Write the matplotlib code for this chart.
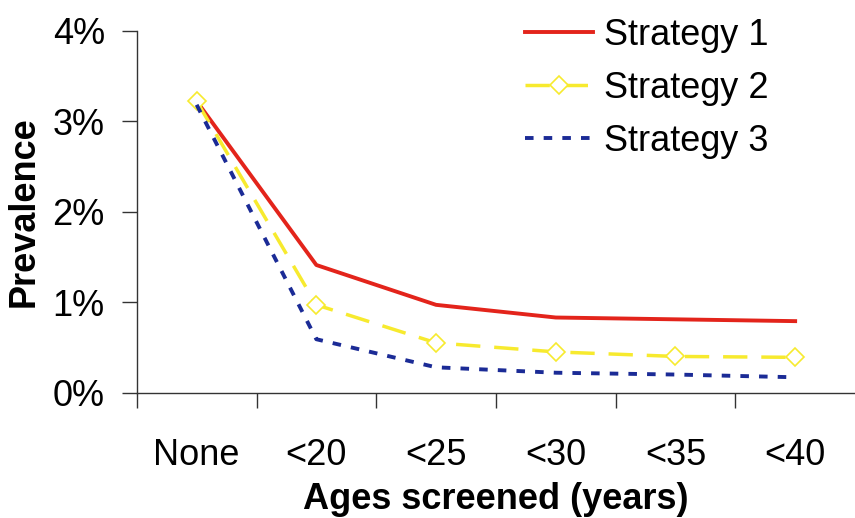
import matplotlib.pyplot as plt
from matplotlib.ticker import FixedLocator, NullFormatter, FixedFormatter

plt.rcParams['font.family'] = ['Liberation Sans', 'DejaVu Sans']

idades = ['None', '<20', '<25', '<30', '<35', '<40']
estrategia1 = [3.22, 1.41, 0.97, 0.83, 0.81, 0.79]
estrategia2 = [3.22, 0.97, 0.55, 0.45, 0.40, 0.39]
estrategia3 = [3.18, 0.59, 0.28, 0.22, 0.20, 0.17]
rotulos_y = ['0%', '1%', '2%', '3%', '4%']

x = list(range(len(idades)))

fig = plt.figure(figsize=(8.55, 5.18), dpi=100)
ax = fig.add_axes([0.160, 0.242, 0.84, 0.699])

ax.plot(x, estrategia1, color='#e3241b', lw=2.8, label='Strategy 1')
ax.plot(x, estrategia2, color='#f7ea2e', lw=2.5, dashes=(7, 4),
        marker='D', markersize=9, markerfacecolor='white',
        markeredgecolor='#f7ea2e', markeredgewidth=1.2, label='Strategy 2')
ax.plot(x, estrategia3, color='#1b2b96', lw=2.8, dashes=(2.2, 2.6), label='Strategy 3')

ax.set_xlim(-0.5, len(idades) - 0.5)
ax.set_ylim(0, 4)

ax.xaxis.set_major_locator(FixedLocator([i - 0.5 for i in x]))
ax.xaxis.set_major_formatter(NullFormatter())
ax.xaxis.set_minor_locator(FixedLocator(x))
ax.xaxis.set_minor_formatter(FixedFormatter(idades))
ax.tick_params(axis='x', which='major', length=11, width=1, direction='out', color='#333333')
ax.tick_params(axis='x', which='minor', length=0, labelsize=26, pad=33)

ax.set_yticks(range(5))
ax.set_yticklabels(rotulos_y)
ax.tick_params(axis='y', length=11, width=1, direction='out', labelsize=26, pad=12, color='#333333')

for lado in ['top', 'right']:
    ax.spines[lado].set_visible(False)
for lado in ['left', 'bottom']:
    ax.spines[lado].set_color('#333333')
    ax.spines[lado].set_linewidth(1)

ax.set_xlabel('Ages screened (years)', fontsize=26, fontweight='bold', labelpad=6)
ax.set_ylabel('Prevalence', fontsize=26, fontweight='bold', labelpad=8)

ax.legend(loc='upper left', bbox_to_anchor=(0.52, 1.075), frameon=False, fontsize=26,
          handlelength=1.9, handletextpad=0.3, labelspacing=0.5, borderaxespad=0)

fig.savefig('out.png', dpi=100)
